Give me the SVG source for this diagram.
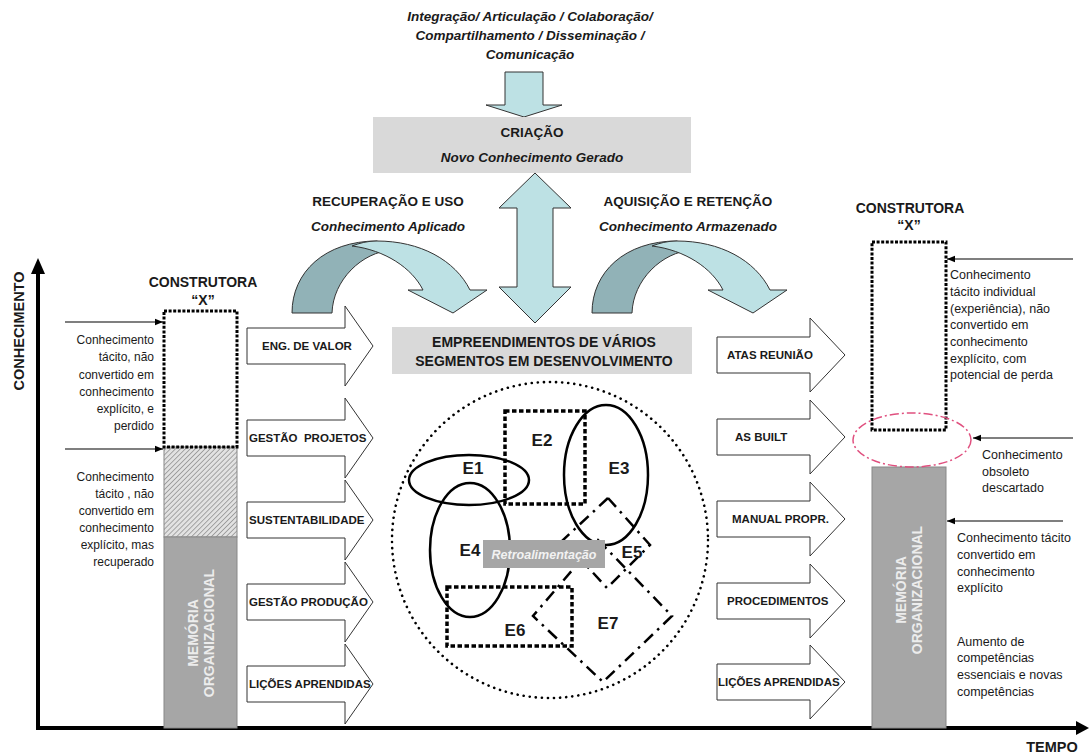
<svg xmlns="http://www.w3.org/2000/svg" width="1089" height="756" viewBox="0 0 1089 756">
<defs>
<style>
text{font-family:"Liberation Sans",Arial,sans-serif;fill:#1a1a1a}
.b{font-weight:bold}
.bi{font-weight:bold;font-style:italic}
.lab{font-size:11.5px;font-weight:bold;white-space:pre}
.sm{font-size:12px}
.smr{font-size:12.5px}
.mem{font-size:14px;font-weight:bold;fill:#ececec;text-anchor:middle}
.e{font-size:17px;font-weight:bold;text-anchor:middle}
.blk{fill:#fff;stroke:#333;stroke-width:1}
.teal{fill:#bde1e4;stroke:#333;stroke-width:1}
.dteal{fill:#91b2b7;stroke:#333;stroke-width:1}
.gbox{fill:#d9d9d9}
.dotbox{fill:none;stroke:#000;stroke-width:3;stroke-dasharray:3 1.6}
.sq{fill:none;stroke:#000;stroke-width:3.5;stroke-dasharray:4.5 2.5}
.ell{fill:none;stroke:#000;stroke-width:2.5}
.dd{fill:none;stroke:#000;stroke-width:2.5;stroke-dasharray:12 6 2.5 6}
.pt{stroke:#000;stroke-width:1.2}
</style>
<pattern id="hatch" width="3.5" height="3.5" patternUnits="userSpaceOnUse" patternTransform="rotate(45)">
<rect width="3.5" height="3.5" fill="#e2e2e2"/>
<line x1="0" y1="0" x2="0" y2="3.5" stroke="#666" stroke-width="1"/>
</pattern>
<marker id="ah" viewBox="0 0 10 10" refX="10" refY="5" markerWidth="8" markerHeight="8" markerUnits="userSpaceOnUse" orient="auto">
<path d="M0,1 L10,5 L0,9 Z" fill="#000"/>
</marker>
</defs>
<rect width="1089" height="756" fill="#fff"/>

<g id="axes">
<line x1="38" y1="728" x2="1078" y2="728" stroke="#000" stroke-width="4"/>
<polygon points="1089,728 1076,721 1076,735" fill="#000"/>
<line x1="38" y1="730" x2="38" y2="272" stroke="#000" stroke-width="4"/>
<polygon points="38,258 31,274 45,274" fill="#000"/>
<text class="b" font-size="14.5" transform="translate(23.5,331) rotate(-90)" text-anchor="middle">CONHECIMENTO</text>
<text class="b" font-size="14.5" x="1052" y="752" text-anchor="middle">TEMPO</text>
</g>

<g id="top-label">
<text class="bi" font-size="13.5" text-anchor="middle"><tspan x="530" y="21">Integração/ Articulação / Colaboração/</tspan><tspan x="530" y="40">Compartilhamento / Disseminação /</tspan><tspan x="530" y="59">Comunicação</tspan></text>
</g>

<g id="down-arrow">
<polygon class="teal" points="505,72 543,72 543,105 562,105 524,117 486,105 505,105"/>
</g>

<g id="criacao">
<rect class="gbox" x="373" y="117" width="318" height="56"/>
<text class="b" font-size="13.5" x="532" y="137" text-anchor="middle">CRIAÇÃO</text>
<text class="bi" font-size="13.5" x="532" y="162" text-anchor="middle">Novo Conhecimento Gerado</text>
</g>

<g id="double-arrow">
<polygon class="teal" points="535,173 571,208 553,208 553,287 571,287 535,323 499,287 517,287 517,208 499,208"/>
</g>

<g id="recuperacao">
<text class="b" font-size="13.5" x="388" y="206" text-anchor="middle">RECUPERAÇÃO E USO</text>
<text class="bi" font-size="13.5" x="388" y="231" text-anchor="middle">Conhecimento Aplicado</text>
<path class="dteal" d="M292,313 C292,272 325,241 377,241 L392,250 C362,252 333,280 332,313 Z"/>
<path class="teal" d="M352,246 C360,243 367,241 377,241 C420,241 455,260 470,290 L487,290 L453,313 L408,290 L423,290 C412,268 385,250 352,246 Z"/>
</g>

<g id="aquisicao">
<text class="b" font-size="13.5" x="688" y="206" text-anchor="middle">AQUISIÇÃO E RETENÇÃO</text>
<text class="bi" font-size="13.5" x="688" y="231" text-anchor="middle">Conhecimento Armazenado</text>
<g transform="translate(300,0)">
<path class="dteal" d="M292,313 C292,272 325,241 377,241 L392,250 C362,252 333,280 332,313 Z"/>
<path class="teal" d="M352,246 C360,243 367,241 377,241 C420,241 455,260 470,290 L487,290 L453,313 L408,290 L423,290 C412,268 385,250 352,246 Z"/>
</g>
</g>

<g id="construtora-left">
<text class="b" font-size="14" x="203" y="287" text-anchor="middle">CONSTRUTORA</text>
<text class="b" font-size="14" x="203" y="305" text-anchor="middle">“X”</text>
<rect x="164" y="447" width="73" height="90" fill="url(#hatch)" stroke="#888" stroke-width="1"/>
<rect x="164" y="537" width="73" height="191" fill="#a6a6a6" stroke="#888" stroke-width="1"/>
<rect class="dotbox" x="164" y="311" width="73" height="136"/>
<text class="mem" transform="translate(197.5,633) rotate(-90)">MEMÓRIA</text>
<text class="mem" transform="translate(213.5,633) rotate(-90)">ORGANIZACIONAL</text>
</g>

<g id="left-notes">
<text class="sm" text-anchor="end"><tspan x="154" y="344">Conhecimento</tspan><tspan x="154" y="361">tácito, não</tspan><tspan x="154" y="378.5">convertido em</tspan><tspan x="154" y="396">conhecimento</tspan><tspan x="154" y="413">explícito, e</tspan><tspan x="154" y="430">perdido</tspan></text>
<text class="sm" text-anchor="end"><tspan x="154" y="481">Conhecimento</tspan><tspan x="154" y="498">tácito , não</tspan><tspan x="154" y="515">convertido em</tspan><tspan x="154" y="532">conhecimento</tspan><tspan x="154" y="549">explícito, mas</tspan><tspan x="154" y="566">recuperado</tspan></text>
</g>

<g id="left-arrows">
<polygon class="blk" points="247,328 345,328 345,306 373,346 345,386 345,364 247,364"/>
<text class="lab" x="262" y="350">ENG. DE VALOR</text>
<polygon class="blk" points="247,420 345,420 345,398 373,438 345,478 345,456 247,456"/>
<text class="lab" x="249" y="442">GESTÃO  PROJETOS</text>
<polygon class="blk" points="247,502 345,502 345,480 373,520 345,560 345,538 247,538"/>
<text class="lab" x="249" y="524">SUSTENTABILIDADE</text>
<polygon class="blk" points="247,584 345,584 345,562 373,602 345,642 345,620 247,620"/>
<text class="lab" x="249" y="606">GESTÃO PRODUÇÃO</text>
<polygon class="blk" points="247,666 345,666 345,644 373,684 345,724 345,702 247,702"/>
<text class="lab" x="249" y="688">LIÇÕES APRENDIDAS</text>
</g>

<g id="empreendimentos">
<rect class="gbox" x="392" y="327" width="300" height="47"/>
<text class="b" font-size="14" x="544" y="347" text-anchor="middle">EMPREENDIMENTOS DE VÁRIOS</text>
<text class="b" font-size="14" x="544" y="366" text-anchor="middle">SEGMENTOS EM DESENVOLVIMENTO</text>
</g>

<g id="segmentos">
<circle cx="550" cy="540" r="158" fill="none" stroke="#000" stroke-width="2.6" stroke-linecap="round" stroke-dasharray="0.1 6"/>
<rect class="sq" x="505" y="411" width="80" height="93"/>
<rect class="sq" x="447" y="587" width="125" height="59"/>
<ellipse class="ell" cx="469" cy="480" rx="60" ry="25"/>
<ellipse class="ell" cx="606" cy="475" rx="42" ry="70"/>
<ellipse class="ell" cx="470" cy="550" rx="40" ry="67"/>
<polygon class="dd" points="608,498 650,545 607,588 563,540"/>
<polygon class="dd" points="598,540 672,616 603,682 533,616"/>
<rect x="483" y="540" width="122" height="28" fill="#a6a6a6"/>
<text class="bi" font-size="12.5" x="544" y="559" text-anchor="middle" style="fill:#f2f2f2">Retroalimentação</text>
<text class="e" x="473" y="474">E1</text>
<text class="e" x="542" y="446">E2</text>
<text class="e" x="619" y="474">E3</text>
<text class="e" x="470" y="556">E4</text>
<text class="e" x="632" y="558">E5</text>
<text class="e" x="515" y="636">E6</text>
<text class="e" x="608" y="629">E7</text>
</g>

<g id="right-arrows">
<polygon class="blk" points="717,337 810,337 810,318 845,355 810,392 810,373 717,373"/>
<text class="lab" x="727" y="359">ATAS REUNIÃO</text>
<polygon class="blk" points="717,419 810,419 810,400 845,437 810,474 810,455 717,455"/>
<text class="lab" x="735" y="441">AS BUILT</text>
<polygon class="blk" points="717,501 810,501 810,482 845,519 810,556 810,537 717,537"/>
<text class="lab" x="732" y="523">MANUAL PROPR.</text>
<polygon class="blk" points="717,583 810,583 810,564 845,601 810,638 810,619 717,619"/>
<text class="lab" x="727" y="605">PROCEDIMENTOS</text>
<polygon class="blk" points="717,664 810,664 810,645 845,682 810,719 810,700 717,700"/>
<text class="lab" x="718" y="686">LIÇÕES APRENDIDAS</text>
</g>

<g id="construtora-right">
<text class="b" font-size="14" x="910" y="213" text-anchor="middle">CONSTRUTORA</text>
<text class="b" font-size="14" x="909" y="230" text-anchor="middle">“X”</text>
<rect x="872" y="467" width="74" height="261" fill="#a6a6a6" stroke="#888" stroke-width="1"/>
<rect class="dotbox" x="872" y="242" width="74" height="188"/>
<ellipse cx="912" cy="440" rx="59" ry="27" fill="none" stroke="#e0507f" stroke-width="1.5" stroke-dasharray="9 3 2 3"/>
<text class="mem" transform="translate(906,590) rotate(-90)">MEMÓRIA</text>
<text class="mem" transform="translate(922,590) rotate(-90)">ORGANIZACIONAL</text>
</g>

<g id="right-notes">
<text class="smr"><tspan x="950" y="279">Conhecimento</tspan><tspan x="950" y="296">tácito individual</tspan><tspan x="950" y="312.5">(experiência), não</tspan><tspan x="950" y="329">convertido em</tspan><tspan x="950" y="346">conhecimento</tspan><tspan x="950" y="362.5">explícito, com</tspan><tspan x="950" y="379">potencial de perda</tspan></text>
<text class="smr"><tspan x="982" y="459">Conhecimento</tspan><tspan x="982" y="476">obsoleto</tspan><tspan x="982" y="492">descartado</tspan></text>
<text class="smr"><tspan x="957" y="542">Conhecimento tácito</tspan><tspan x="957" y="559">convertido em</tspan><tspan x="957" y="576">conhecimento</tspan><tspan x="957" y="592">explícito</tspan></text>
<text class="smr"><tspan x="957" y="646">Aumento de</tspan><tspan x="957" y="662">competências</tspan><tspan x="957" y="679">essenciais e novas</tspan><tspan x="957" y="696">competências</tspan></text>
</g>

<g id="connectors">
<line class="pt" x1="65" y1="322" x2="163" y2="322" marker-end="url(#ah)"/>
<line class="pt" x1="65" y1="449" x2="163" y2="449" marker-end="url(#ah)"/>
<line class="pt" x1="1073" y1="259" x2="947" y2="259" marker-end="url(#ah)"/>
<line class="pt" x1="1073" y1="438" x2="973" y2="438" marker-end="url(#ah)"/>
<line class="pt" x1="1063" y1="521" x2="947" y2="521" marker-end="url(#ah)"/>
</g>
</svg>
